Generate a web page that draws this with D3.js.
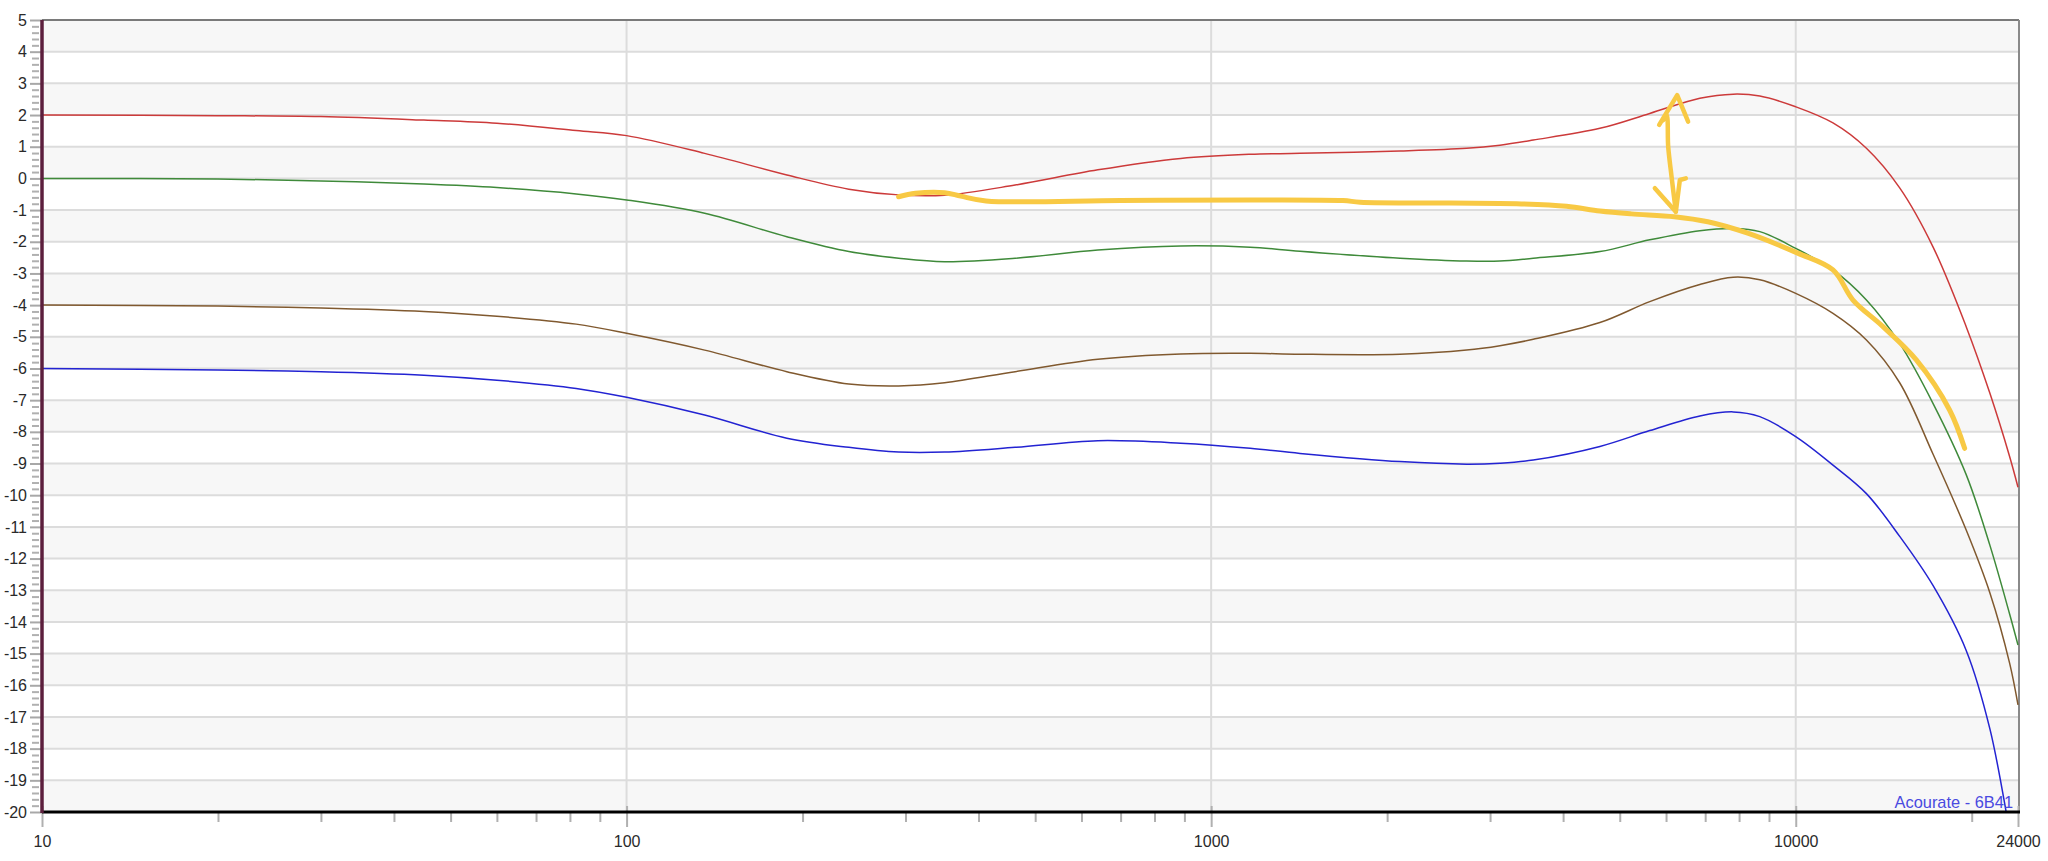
<!DOCTYPE html>
<html><head><meta charset="utf-8">
<script src="https://cdn.jsdelivr.net/npm/d3@7"></script>
<style>html,body{margin:0;padding:0;background:#fff;overflow:hidden;} svg{display:block;}</style>
</head><body><svg id="c" width="2048" height="861"></svg>
<script>
// ---- data (frequency in Hz, level in dB) ----
const freqs  = [10, 20, 30, 45, 60, 82, 100, 136, 188, 240, 292, 350, 462, 640, 887, 1166, 1419, 2104, 2735, 3119, 3556, 4624, 5627, 6855, 7817, 8681, 10000, 11580, 13210, 15060, 17170, 19570, 21500, 23220, 24000];
const redDb   = [2.0, 1.98, 1.95, 1.84, 1.74, 1.51, 1.35, 0.79, 0.11, -0.34, -0.52, -0.53, -0.21, 0.27, 0.63, 0.76, 0.79, 0.865, 0.95, 1.05, 1.21, 1.58, 2.05, 2.53, 2.66, 2.60, 2.26, 1.75, 0.95, -0.30, -2.16, -4.68, -6.8, -8.78, -9.75];
const greenDb = [0.0, -0.02, -0.08, -0.18, -0.29, -0.49, -0.68, -1.10, -1.84, -2.31, -2.52, -2.63, -2.52, -2.26, -2.13, -2.17, -2.30, -2.52, -2.61, -2.61, -2.52, -2.31, -1.94, -1.65, -1.58, -1.68, -2.21, -2.89, -3.84, -5.21, -7.10, -9.35, -11.6, -13.75, -14.73];
const brownDb = [-4.0, -4.03, -4.09, -4.2, -4.35, -4.6, -4.89, -5.42, -6.10, -6.49, -6.55, -6.45, -6.10, -5.71, -5.54, -5.52, -5.55, -5.55, -5.42, -5.28, -5.08, -4.55, -3.89, -3.35, -3.12, -3.2, -3.63, -4.26, -5.10, -6.45, -8.7, -11.1, -13.1, -15.3, -16.62];
const blueDb  = [-6.0, -6.05, -6.1, -6.21, -6.37, -6.63, -6.91, -7.47, -8.20, -8.49, -8.64, -8.64, -8.49, -8.28, -8.36, -8.52, -8.68, -8.94, -9.02, -8.99, -8.89, -8.46, -7.96, -7.5, -7.37, -7.52, -8.15, -9.05, -9.95, -11.3, -12.85, -14.9, -17.4, -20.6, -22.0];

// hand-drawn yellow annotation (freq, dB)
const markFreq = [292, 312, 350, 373, 412, 700, 1166, 1681, 1798, 2562, 3331, 4055, 4624, 5231, 6203, 7073, 8277, 10080, 11580, 12530, 14100, 16080, 18330, 19450];
const markDb   = [-0.58, -0.47, -0.45, -0.56, -0.71, -0.70, -0.68, -0.70, -0.75, -0.78, -0.80, -0.88, -1.03, -1.12, -1.21, -1.37, -1.73, -2.36, -2.89, -3.84, -4.68, -5.73, -7.31, -8.52];
const arrowShaftFreq = [5933, 6012, 6051, 6132, 6236];
const arrowShaftDb   = [1.84, 2.00, 1.00, 0.05, -1.05];
const arrowTopFreq = [5840, 6269, 6545];
const arrowTopDb   = [1.69, 2.63, 1.79];
const arrowBotFreq = [5741, 6236, 6335, 6486];
const arrowBotDb   = [-0.31, -1.05, -0.05, 0.00];

const yTicks = d3.range(-20, 6);
const yMinorTicks = d3.range(-20, 5.001, 0.2).filter(v => Math.abs(v - Math.round(v)) > 1e-6);
const xMajorTicks = [10, 100, 1000, 10000, 24000];
const xMinorTicks = [20,30,40,50,60,70,80,90,200,300,400,500,600,700,800,900,2000,3000,4000,5000,6000,7000,8000,9000,20000];
const xGridTicks = [100, 1000, 10000];
const watermark = "Acourate - 6B41";

// ---- drawing ----
const L = 42, R = 2018, T = 20, B = 812;
const svg = d3.select("#c");
const x = d3.scaleLog().domain([10, 24000]).range([L, R]);
const y = d3.scaleLinear().domain([-20, 5]).range([B, T]);
const font = "'Liberation Sans', Arial, sans-serif";

// bands
svg.append("g").selectAll("rect").data(d3.range(-20, 5)).join("rect")
  .attr("x", L).attr("width", R - L)
  .attr("y", d => y(d + 1)).attr("height", d => y(d) - y(d + 1))
  .attr("fill", d => ((4 - d) % 2 === 0) ? "#f7f7f7" : "#ffffff");

// horizontal grid
svg.append("g").selectAll("line").data(yTicks.filter(v => v > -20 && v < 5)).join("line")
  .attr("x1", L).attr("x2", R).attr("y1", d => y(d)).attr("y2", d => y(d))
  .attr("stroke", "#dcdcdc").attr("stroke-width", 2);
// vertical grid
svg.append("g").selectAll("line").data(xGridTicks).join("line")
  .attr("x1", d => x(d)).attr("x2", d => x(d)).attr("y1", T).attr("y2", B)
  .attr("stroke", "#dcdcdc").attr("stroke-width", 2);

// borders
svg.append("line").attr("x1", L).attr("x2", R + 1).attr("y1", T).attr("y2", T).attr("stroke", "#7a7a7a").attr("stroke-width", 2);
svg.append("line").attr("x1", R + 1).attr("x2", R + 1).attr("y1", T).attr("y2", B).attr("stroke", "#8a8a8a").attr("stroke-width", 2);

// clip
svg.append("defs").append("clipPath").attr("id", "plot").append("rect")
  .attr("x", L).attr("y", T).attr("width", R - L + 1).attr("height", B - T);

const line = d3.line().x(d => x(d[0])).y(d => y(d[1])).curve(d3.curveCatmullRom.alpha(0.5));
const series = [
  {vals: redDb, color: "#cc3a3a"},
  {vals: greenDb, color: "#3f8a3a"},
  {vals: brownDb, color: "#80592f"},
  {vals: blueDb, color: "#2323d2"}
];
const gCurves = svg.append("g").attr("clip-path", "url(#plot)");
gCurves.selectAll("path").data(series).join("path")
  .attr("d", s => line(freqs.map((f, i) => [f, s.vals[i]])))
  .attr("fill", "none").attr("stroke", s => s.color).attr("stroke-width", 1.5);

// watermark
svg.append("text").attr("x", 2013).attr("y", 808).attr("text-anchor", "end")
  .attr("font-family", font).attr("font-size", 16.4).attr("fill", "#4a4ae0").text(watermark);

// yellow annotation
const ann = svg.append("g").attr("fill", "none").attr("stroke", "#f8c944")
  .attr("stroke-linecap", "round").attr("stroke-linejoin", "round");
const annLine = d3.line().x(d => x(d[0])).y(d => y(d[1])).curve(d3.curveCatmullRom);
ann.append("path").attr("stroke-width", 5).attr("d", annLine(markFreq.map((f, i) => [f, markDb[i]])));
ann.append("path").attr("stroke-width", 4.5).attr("d", annLine(arrowShaftFreq.map((f, i) => [f, arrowShaftDb[i]])));
const polyLine = d3.line().x(d => x(d[0])).y(d => y(d[1]));
ann.append("path").attr("stroke-width", 4.5).attr("d", polyLine(arrowTopFreq.map((f, i) => [f, arrowTopDb[i]])));
ann.append("path").attr("stroke-width", 4.5).attr("d", polyLine(arrowBotFreq.map((f, i) => [f, arrowBotDb[i]])));

// y axis major
const yAxis = svg.append("g").attr("transform", `translate(${L},0)`)
  .call(d3.axisLeft(y).tickValues(yTicks).tickSize(12).tickPadding(3).tickFormat(d => String(d)));
yAxis.select(".domain").remove();
yAxis.selectAll(".tick line").attr("stroke", "#a8a8a8").attr("stroke-width", 2);
yAxis.selectAll(".tick text").attr("font-family", font).attr("font-size", 16).attr("fill", "#2a2a2a");
// y axis minor
const yMinor = svg.append("g").attr("transform", `translate(${L - 3},0)`)
  .call(d3.axisLeft(y).tickValues(yMinorTicks).tickSize(7).tickFormat(""));
yMinor.select(".domain").remove();
yMinor.selectAll(".tick line").attr("stroke", "#b0b0b0").attr("stroke-width", 2);

// x axis major
const xAxis = svg.append("g").attr("transform", `translate(0,${B - 6})`)
  .call(d3.axisBottom(x).tickValues(xMajorTicks).tickSize(21).tickPadding(9).tickFormat(d => String(d)));
xAxis.select(".domain").remove();
xAxis.selectAll(".tick line").attr("stroke", "#b0b0b0").attr("stroke-width", 2);
xAxis.selectAll(".tick text").attr("font-family", font).attr("font-size", 16).attr("fill", "#2a2a2a");
// x axis minor
const xMinor = svg.append("g").attr("transform", `translate(0,${B + 1})`)
  .call(d3.axisBottom(x).tickValues(xMinorTicks).tickSize(9).tickFormat(""));
xMinor.select(".domain").remove();
xMinor.selectAll(".tick line").attr("stroke", "#b0b0b0").attr("stroke-width", 2);

// axis lines
svg.append("line").attr("x1", L).attr("x2", R + 2).attr("y1", B).attr("y2", B).attr("stroke", "#000").attr("stroke-width", 3);
svg.append("line").attr("x1", L).attr("x2", L).attr("y1", T).attr("y2", B + 1).attr("stroke", "#5c1f3d").attr("stroke-width", 3.5);
</script></body></html>
